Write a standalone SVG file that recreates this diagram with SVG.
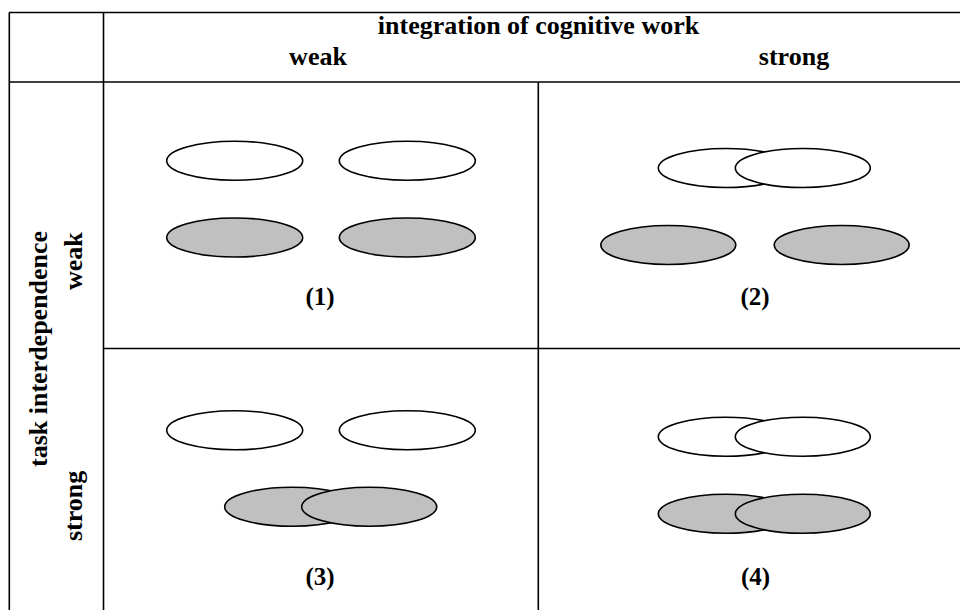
<svg xmlns="http://www.w3.org/2000/svg" width="960" height="610" viewBox="0 0 960 610">
  <defs>
    <style>
      .grid { stroke: #000; stroke-width: 1.6; fill: none; }
      .lbl { font-family: "Liberation Serif", "Times New Roman", serif; font-weight: bold; font-size: 26px; fill: #000; }
      .num { font-family: "Liberation Serif", "Times New Roman", serif; font-weight: bold; font-size: 25px; fill: #000; text-anchor: middle; }
      .open { fill: #fff; stroke: #000; stroke-width: 1.6; }
      .shaded { fill: #c0c0c0; stroke: #000; stroke-width: 1.6; }
    </style>
  </defs>
  <rect width="960" height="610" fill="#fff"/>

  <!-- table rules -->
  <g id="connectors" class="grid">
    <line x1="9" y1="12.5" x2="960" y2="12.5"/>
    <line x1="9" y1="82" x2="960" y2="82"/>
    <line x1="103.5" y1="348.5" x2="960" y2="348.5"/>
    <line x1="9.3" y1="12.5" x2="9.3" y2="610"/>
    <line x1="103.5" y1="12.5" x2="103.5" y2="610"/>
    <line x1="538.3" y1="82" x2="538.3" y2="610"/>
  </g>

  <!-- header labels -->
  <g id="col-header">
    <text class="lbl" x="538.5" y="34" text-anchor="middle">integration of cognitive work</text>
    <text class="lbl" x="318" y="65" text-anchor="middle">weak</text>
    <text class="lbl" x="794" y="65" text-anchor="middle">strong</text>
  </g>
  <g id="row-header">
    <text class="lbl" x="46.5" y="467" transform="rotate(-90 46.5 467)">task interdependence</text>
    <text class="lbl" x="82" y="290" transform="rotate(-90 82 290)">weak</text>
    <text class="lbl" x="82" y="541" transform="rotate(-90 82 541)">strong</text>
  </g>

  <!-- cell 1: weak / weak -->
  <g id="cell-1">
    <ellipse class="open" cx="234.7" cy="160.7" rx="68" ry="19.5"/>
    <ellipse class="open" cx="407.3" cy="160.7" rx="68" ry="19.5"/>
    <ellipse class="shaded" cx="234.7" cy="237.5" rx="68" ry="19.5"/>
    <ellipse class="shaded" cx="407.3" cy="237.5" rx="68" ry="19.5"/>
    <text class="num" x="320" y="305">(1)</text>
  </g>

  <!-- cell 2: weak interdependence / strong integration -->
  <g id="cell-2">
    <ellipse class="open" cx="725.8" cy="168" rx="67.5" ry="19.5"/>
    <ellipse class="open" cx="802.8" cy="168" rx="67.5" ry="19.5"/>
    <ellipse class="shaded" cx="668.3" cy="245" rx="67.5" ry="19.5"/>
    <ellipse class="shaded" cx="841.7" cy="245" rx="67.5" ry="19.5"/>
    <text class="num" x="755" y="305">(2)</text>
  </g>

  <!-- cell 3: strong interdependence / weak integration -->
  <g id="cell-3">
    <ellipse class="open" cx="234.7" cy="430.3" rx="68" ry="19.5"/>
    <ellipse class="open" cx="407.3" cy="430.3" rx="68" ry="19.5"/>
    <ellipse class="shaded" cx="292.2" cy="506.8" rx="67.5" ry="19.5"/>
    <ellipse class="shaded" cx="369.2" cy="506.8" rx="67.5" ry="19.5"/>
    <text class="num" x="320" y="585">(3)</text>
  </g>

  <!-- cell 4: strong / strong -->
  <g id="cell-4">
    <ellipse class="open" cx="725.8" cy="436.7" rx="67.5" ry="19.5"/>
    <ellipse class="open" cx="802.8" cy="436.7" rx="67.5" ry="19.5"/>
    <ellipse class="shaded" cx="725.8" cy="513.8" rx="67.5" ry="19.5"/>
    <ellipse class="shaded" cx="802.8" cy="513.8" rx="67.5" ry="19.5"/>
    <text class="num" x="755.5" y="585">(4)</text>
  </g>
</svg>
